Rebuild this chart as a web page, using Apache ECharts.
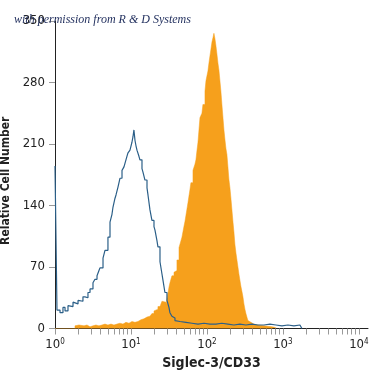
<!DOCTYPE html>
<html>
<head>
<meta charset="utf-8">
<script src="https://cdn.jsdelivr.net/npm/echarts@6/dist/echarts.min.js"></script>
<style>html,body{margin:0;padding:0;background:#fff}#c{width:375px;height:375px}</style>
</head>
<body>
<div id="c"></div>
<script>
// x positions are in decades (log10 of fluorescence intensity); counts are cell numbers
const isotypeX = [0, 0.026, 0.066, 0.105, 0.132, 0.171, 0.197, 0.237, 0.263, 0.303, 0.329, 0.368, 0.395, 0.434, 0.461, 0.5, 0.526, 0.553, 0.579, 0.592, 0.632, 0.658, 0.697, 0.724, 0.75, 0.763, 0.789, 0.803, 0.829, 0.855, 0.882, 0.908, 0.921, 0.947, 0.961, 0.987, 1.013, 1.026, 1.039, 1.053, 1.066, 1.079, 1.105, 1.118, 1.145, 1.158, 1.184, 1.211, 1.224, 1.25, 1.276, 1.303, 1.316, 1.342, 1.355, 1.382, 1.408, 1.421, 1.447, 1.474, 1.5, 1.513, 1.539, 1.553, 1.579, 1.592, 1.645, 1.724, 1.803, 1.882, 1.961, 2.039, 2.118, 2.197, 2.276, 2.355, 2.434, 2.513, 2.592, 2.671, 2.75, 2.829, 2.908, 2.987, 3.066, 3.145, 3.224, 3.25];
const isotypeCounts = [185, 21, 18, 24, 20, 26, 25, 30, 28, 32, 31, 36, 35, 41, 45, 52, 56, 60, 66, 69, 80, 89, 104, 121, 130, 138, 148, 152, 161, 171, 180, 184, 188, 196, 200, 203, 212, 218, 226, 214, 208, 203, 196, 192, 182, 178, 169, 160, 152, 135, 123, 116, 112, 100, 93, 76, 62, 55, 41, 32, 24, 18, 14, 12, 9, 8, 7, 6, 5, 6, 5, 5, 6, 5, 4, 5, 4, 5, 4, 4, 5, 4, 3, 4, 3, 4, 4, 0];

const cd33X = [0, 0.263, 0.289, 0.316, 0.342, 0.382, 0.421, 0.461, 0.5, 0.539, 0.579, 0.618, 0.658, 0.697, 0.737, 0.776, 0.816, 0.855, 0.895, 0.934, 0.974, 1.013, 1.053, 1.092, 1.132, 1.171, 1.211, 1.25, 1.276, 1.303, 1.329, 1.355, 1.382, 1.408, 1.421, 1.434, 1.461, 1.474, 1.487, 1.5, 1.513, 1.539, 1.566, 1.579, 1.605, 1.632, 1.658, 1.671, 1.697, 1.711, 1.737, 1.75, 1.776, 1.789, 1.816, 1.842, 1.855, 1.868, 1.882, 1.895, 1.908, 1.921, 1.934, 1.947, 1.974, 1.987, 2.013, 2.026, 2.039, 2.053, 2.066, 2.079, 2.092, 2.105, 2.118, 2.132, 2.145, 2.158, 2.171, 2.184, 2.197, 2.211, 2.224, 2.237, 2.25, 2.263, 2.276, 2.289, 2.303, 2.316, 2.329, 2.342, 2.355, 2.368, 2.382, 2.395, 2.408, 2.421, 2.434, 2.447, 2.461, 2.474, 2.487, 2.5, 2.513, 2.526, 2.539, 2.553, 2.579, 2.618, 2.671, 2.75, 2.855, 2.908];
const cd33Counts = [0, 3, 4, 2, 3, 4, 2, 3, 4, 3, 4, 5, 4, 5, 4, 5, 6, 5, 7, 6, 8, 7, 8, 10, 11, 13, 14, 15, 17, 20, 22, 25, 27, 31, 33, 30, 27, 34, 40, 47, 52, 60, 64, 66, 78, 92, 100, 104, 116, 122, 136, 143, 158, 166, 180, 187, 192, 202, 212, 226, 240, 238, 245, 255, 270, 282, 293, 302, 310, 318, 326, 331, 336, 330, 322, 312, 302, 294, 282, 270, 255, 240, 226, 215, 205, 198, 184, 170, 160, 148, 135, 122, 110, 96, 86, 78, 70, 62, 55, 48, 42, 36, 28, 22, 17, 13, 9, 7, 5, 4, 3, 2, 1, 0];

const decadeExponents = [0, 1, 2, 3, 4];
const yTicks = [0, 70, 140, 210, 280, 350];
const xTitle = 'Siglec-3/CD33';
const yTitle = 'Relative Cell Number';
const credit = 'with permission from R & D Systems';

const minorTicks = [];
for (let d = 0; d < 4; d++) for (let k = 1; k <= 9; k++) minorTicks.push(d + Math.log10(k));
minorTicks.push(4);

const pair = (xs, ys) => xs.map((x, i) => [x, ys[i]]);
const FONT = '"Liberation Sans Narrow", "DejaVu Sans Condensed", sans-serif';

const chart = echarts.init(document.getElementById('c'), null, {renderer: 'canvas'});
chart.setOption({
  animation: false,
  backgroundColor: '#fff',
  title: {
    text: credit, left: 9, top: 9,
    textStyle: {fontFamily: '"Liberation Serif", serif', fontStyle: 'italic', fontWeight: 'normal', fontSize: 12, color: '#1f2d5c'}
  },
  grid: {left: 55, right: 7, top: 21, bottom: 46.5, containLabel: false, outerBoundsMode: 'none'},
  xAxis: {
    type: 'value', min: 0, max: 4.12,
    name: xTitle, nameLocation: 'middle', nameGap: 26,
    nameTextStyle: {fontFamily: FONT, fontWeight: 'bold', fontSize: 14, color: '#222'},
    axisLine: {lineStyle: {color: '#222', width: 1}},
    axisTick: {show: true, length: 6, customValues: minorTicks, lineStyle: {color: '#999'}},
    axisLabel: {
      customValues: decadeExponents, margin: 9,
      formatter: v => '{b|10}{s|' + v + '}',
      rich: {
        b: {fontFamily: FONT, fontSize: 13, color: '#222'},
        s: {fontFamily: FONT, fontSize: 8, color: '#222', padding: [0, 0, 6, 0]}
      }
    },
    splitLine: {show: false}
  },
  yAxis: {
    type: 'value', min: 0, max: 350, interval: 70,
    name: yTitle, nameLocation: 'middle', nameGap: 37, nameRotate: 90,
    nameTextStyle: {fontFamily: FONT, fontWeight: 'bold', fontSize: 12, color: '#222', padding: [0, 12, 0, 0]},
    axisLine: {show: true, lineStyle: {color: '#222', width: 1}},
    axisTick: {show: true, length: 6, lineStyle: {color: '#999'}},
    axisLabel: {margin: 10, fontFamily: FONT, fontSize: 13, color: '#222', formatter: v => yTicks.includes(v) ? String(v) : ''},
    splitLine: {show: false}
  },
  series: [
    {
      type: 'line', step: 'end', showSymbol: false, data: pair(cd33X, cd33Counts),
      lineStyle: {width: 0.5, color: '#F6A01C'}, areaStyle: {color: '#F6A01C', opacity: 1}, z: 2
    },
    {
      type: 'line', step: 'end', showSymbol: false, data: pair(isotypeX, isotypeCounts),
      lineStyle: {width: 1.2, color: '#2B5F88'}, z: 3
    }
  ]
});
</script>
</body>
</html>
